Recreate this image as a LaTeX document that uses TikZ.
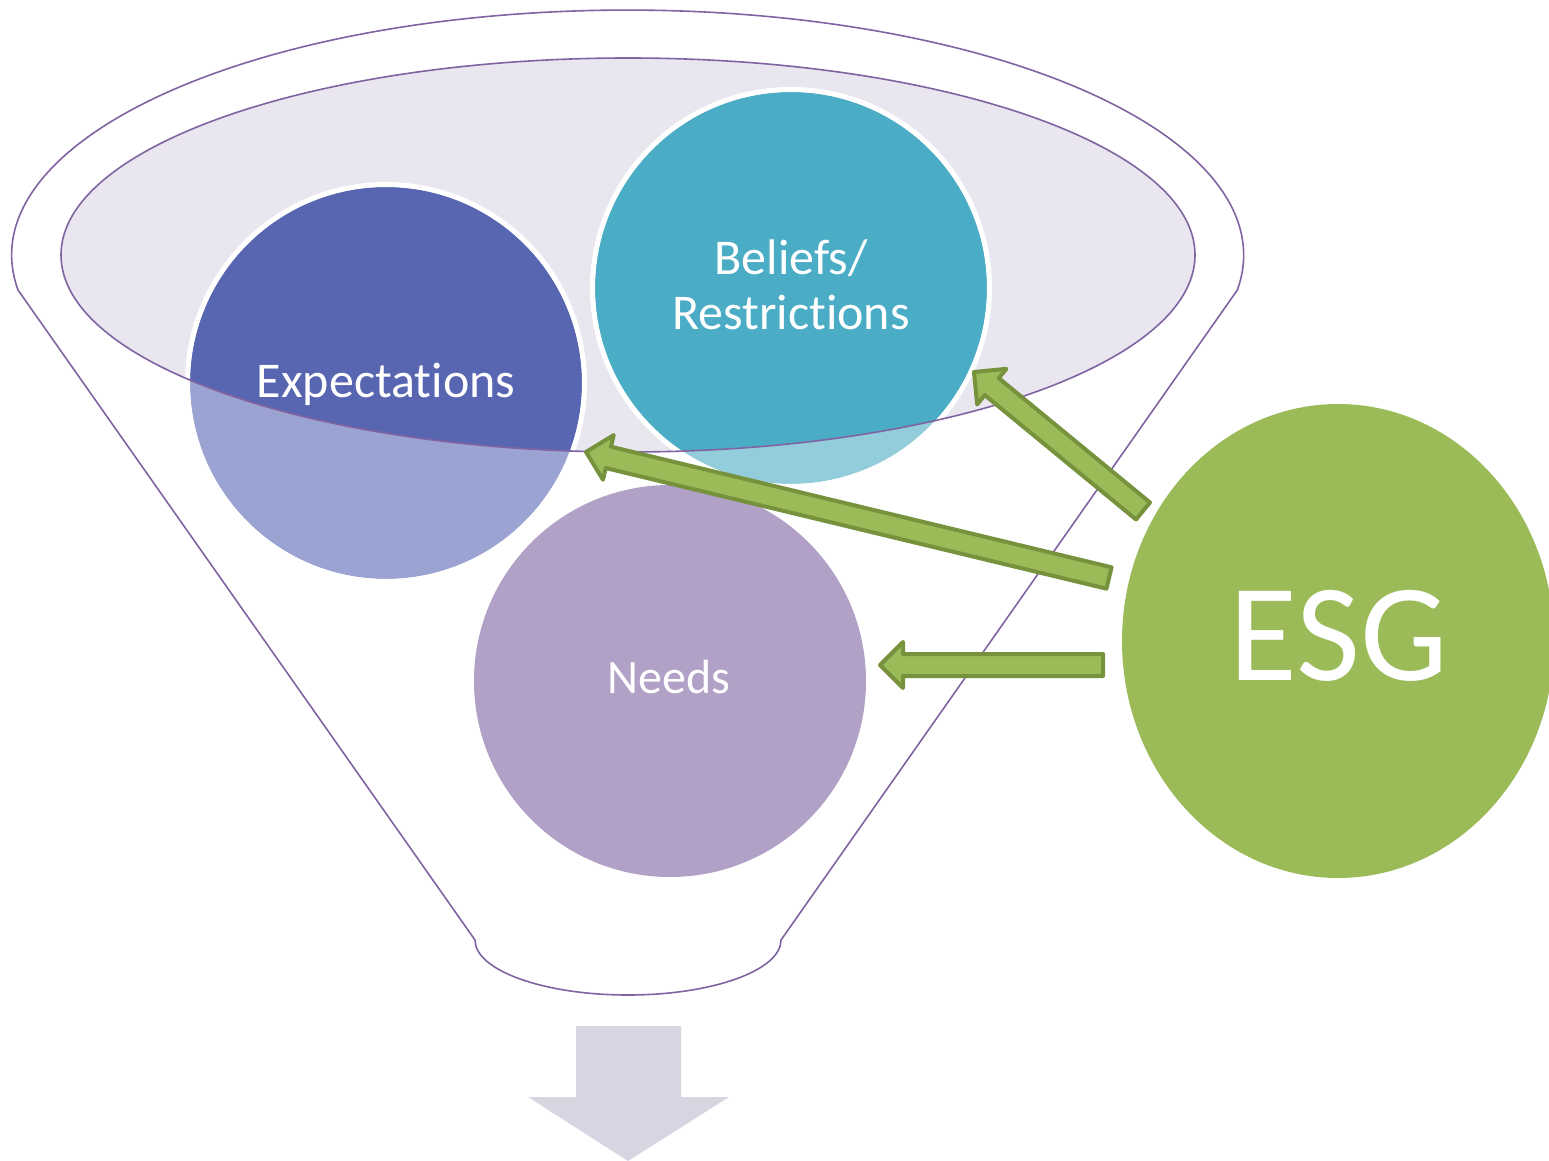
\documentclass[tikz,border=0pt]{standalone}
\usepackage{fontspec}
\setmainfont{Carlito}[Ligatures={NoCommon,NoContextual}]
\usetikzlibrary{calc,shapes.geometric}
\definecolor{funnelline}{HTML}{8064A2}
\definecolor{innerfill}{HTML}{E9E6EF}
\definecolor{expdark}{HTML}{5866B2}
\definecolor{explight}{HTML}{9BA3D3}
\definecolor{beldark}{HTML}{4BACC6}
\definecolor{bellight}{HTML}{93CDDC}
\definecolor{needsfill}{HTML}{B1A1C6}
\definecolor{esggreen}{HTML}{9BBB59}
\definecolor{arrowedge}{HTML}{76923C}
\definecolor{downfill}{HTML}{D8D5E3}
\tikzset{
  funnel/.style={draw=funnelline, line width=1.6pt},
  bigcircle/.style={circle, minimum size=392pt, inner sep=0pt},
  lbl/.style={text=white, font=\fontsize{50}{55}\selectfont, inner sep=0pt},
  garrow/.style={fill=esggreen, draw=arrowedge, line width=4pt, line join=round},
}
\newcommand\myblockarrow[2]{%
  \path ($(#2)!23pt!(#1)$) coordinate (H);
  \draw[garrow] (#2) -- ($(H)!23pt!90:(#2)$) -- ($(H)!11pt!90:(#2)$)
    -- ($(#1)!11pt!90:(H)$) -- ($(#1)!11pt!-90:(H)$)
    -- ($(H)!11pt!-90:(#2)$) -- ($(H)!23pt!-90:(#2)$) -- cycle;
}
\begin{document}
\begin{tikzpicture}[x=1pt,y=-1pt]
\useasboundingbox (0,0) rectangle (1549,1161);
% outer funnel
\draw[funnel, fill=white] (18,290)
  arc[start angle=188.2, end angle=-8.2, x radius=616pt, y radius=245pt]
  -- (781,940)
  arc[start angle=0, end angle=-180, x radius=153pt, y radius=55pt]
  -- cycle;
% inner ellipse
\fill[innerfill] (628,255) ellipse[x radius=567pt, y radius=197pt];
% circles
\node[bigcircle, fill=explight] (exp) at (386,383) {};
\node[bigcircle, fill=bellight] (bel) at (791,288) {};
\begin{scope}
  \clip (628,255) ellipse[x radius=567pt, y radius=197pt];
  \fill[expdark] (exp.center) circle[radius=196pt];
  \fill[beldark] (bel.center) circle[radius=196pt];
\end{scope}
\draw[white, line width=5pt] (exp.center) circle[radius=198.5pt]
  (bel.center) circle[radius=198.5pt];
\draw[funnel] (628,255) ellipse[x radius=567pt, y radius=197pt];
\node[bigcircle, fill=needsfill] (needs) at (670,681) {};
% ESG
\begin{scope}
  \clip (0,0) rectangle (1549,1161);
  \node[ellipse, fill=esggreen, minimum width=432pt, minimum height=474pt, inner sep=0pt] (esg) at (1338,641) {};
\end{scope}
% labels
\node[lbl, anchor=base] (expt) at (386,397) {Expectations};
\node[lbl, anchor=base] (belt1) at (791,274) {Beliefs/};
\node[lbl, anchor=base] (belt2) at (791,329) {Restrictions};
\node[lbl, anchor=base, font=\fontsize{48}{52}\selectfont] (needst) at (669,693) {Needs};
\node[text=white, inner sep=0pt, anchor=base, font=\fontsize{139}{150}\selectfont] (esgt) at (1339,680) {ESG};
% arrows
\coordinate (a1tail) at (1103,665);
\coordinate (a1tip) at (880,665);
\coordinate (a2tail) at (1109,578);
\coordinate (a2tip) at (586,452);
\coordinate (a3tail) at (1143,511);
\coordinate (a3tip) at (974,372);
\myblockarrow{a3tail}{a3tip}
\myblockarrow{a2tail}{a2tip}
\myblockarrow{a1tail}{a1tip}
% down arrow
\fill[downfill] (576,1026) -- (681,1026) -- (681,1097) -- (729,1097) -- (628,1161)
  -- (528,1097) -- (576,1097) -- cycle;
\end{tikzpicture}
\end{document}
